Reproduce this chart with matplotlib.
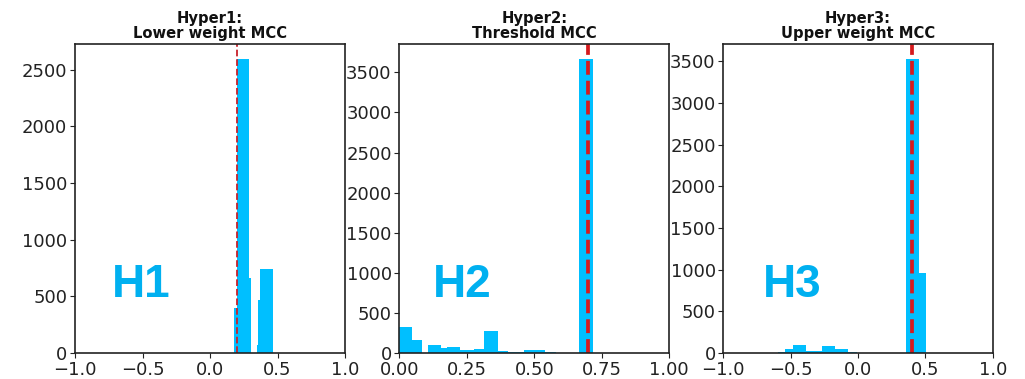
import matplotlib
matplotlib.use("Agg")
import matplotlib.pyplot as plt
import numpy as np

# ---- data ----
titles = ["Hyper1:\nLower weight MCC", "Hyper2:\nThreshold MCC", "Hyper3:\nUpper weight MCC"]
labels = ["H1", "H2", "H3"]

h1_edges = [0.180, 0.198, 0.289, 0.301, 0.346, 0.356, 0.370, 0.469]
h1_counts = [395, 2597, 660, 0, 70, 469, 742]
h1_line = 0.2

h2_edges = [0.0, 0.048, 0.085, 0.105, 0.154, 0.176, 0.225, 0.278, 0.315, 0.364,
            0.404, 0.460, 0.540, 0.580, 0.667, 0.719]
h2_counts = [325, 166, 0, 100, 62, 79, 33, 50, 270, 20, 8, 33, 10, 3, 3670]
h2_line = 0.7

h3_edges = [-0.592, -0.542, -0.480, -0.386, -0.332, -0.270, -0.171, -0.072, -0.010,
            0.354, 0.453, 0.503]
h3_counts = [15, 45, 101, 25, 25, 84, 45, 12, 0, 3530, 965]
h3_line = 0.4

xlims = [(-1, 1), (0, 1), (-1, 1)]
xticks = [[-1.0, -0.5, 0.0, 0.5, 1.0],
          [0.0, 0.25, 0.5, 0.75, 1.0],
          [-1.0, -0.5, 0.0, 0.5, 1.0]]
xticklabels = [["\u22121.0", "\u22120.5", "0.0", "0.5", "1.0"],
               ["0.00", "0.25", "0.50", "0.75", "1.00"],
               ["\u22121.0", "\u22120.5", "0.0", "0.5", "1.0"]]
yticks = [[0, 500, 1000, 1500, 2000, 2500],
          [0, 500, 1000, 1500, 2000, 2500, 3000, 3500],
          [0, 500, 1000, 1500, 2000, 2500, 3000, 3500]]

edges_all = [h1_edges, h2_edges, h3_edges]
counts_all = [h1_counts, h2_counts, h3_counts]
lines_all = [h1_line, h2_line, h3_line]

bar_color = "#00BFFF"
text_color = "#00B0F0"

W, H = 1025, 379
fig = plt.figure(figsize=(W / 100, H / 100), dpi=100)

ax_px = [(75, 345), (399.3, 669.3), (723.3, 992.7)]
top_px, bot_px = 44, 353
label_x = [112, 433, 763]
label_base = 297

for i in range(3):
    l, r = ax_px[i]
    ax = fig.add_axes([l / W, 1 - bot_px / H, (r - l) / W, (bot_px - top_px) / H])
    e = np.array(edges_all[i])
    c = np.array(counts_all[i])
    ax.bar(e[:-1], c, width=np.diff(e), align="edge", color=bar_color,
           edgecolor="none", linewidth=0)
    if i == 0:
        ax.axvline(lines_all[i], color="#C8202A", linestyle="--", linewidth=1.3)
    else:
        ax.axvline(lines_all[i], color="#D7191C", linestyle="--", linewidth=2.7)
    ax.set_xlim(*xlims[i])
    ax.set_ylim(0, max(c) * 1.05)
    ax.set_xticks(xticks[i])
    ax.set_xticklabels(xticklabels[i])
    ax.set_yticks(yticks[i])
    ax.tick_params(labelsize=13, length=3.5, width=0.8, colors="#222222", pad=2)
    for s in ax.spines.values():
        s.set_linewidth(1.2)
        s.set_color("#222222")
    ax.set_title(titles[i], fontsize=10.6, fontweight="bold", pad=4, linespacing=1.05,
                 color="#111111")
    fig.text(label_x[i] / W, 1 - label_base / H, labels[i], fontsize=33,
             fontweight="bold", family="Liberation Sans", color=text_color,
             ha="left", va="baseline")

fig.savefig("out.png", dpi=100)
